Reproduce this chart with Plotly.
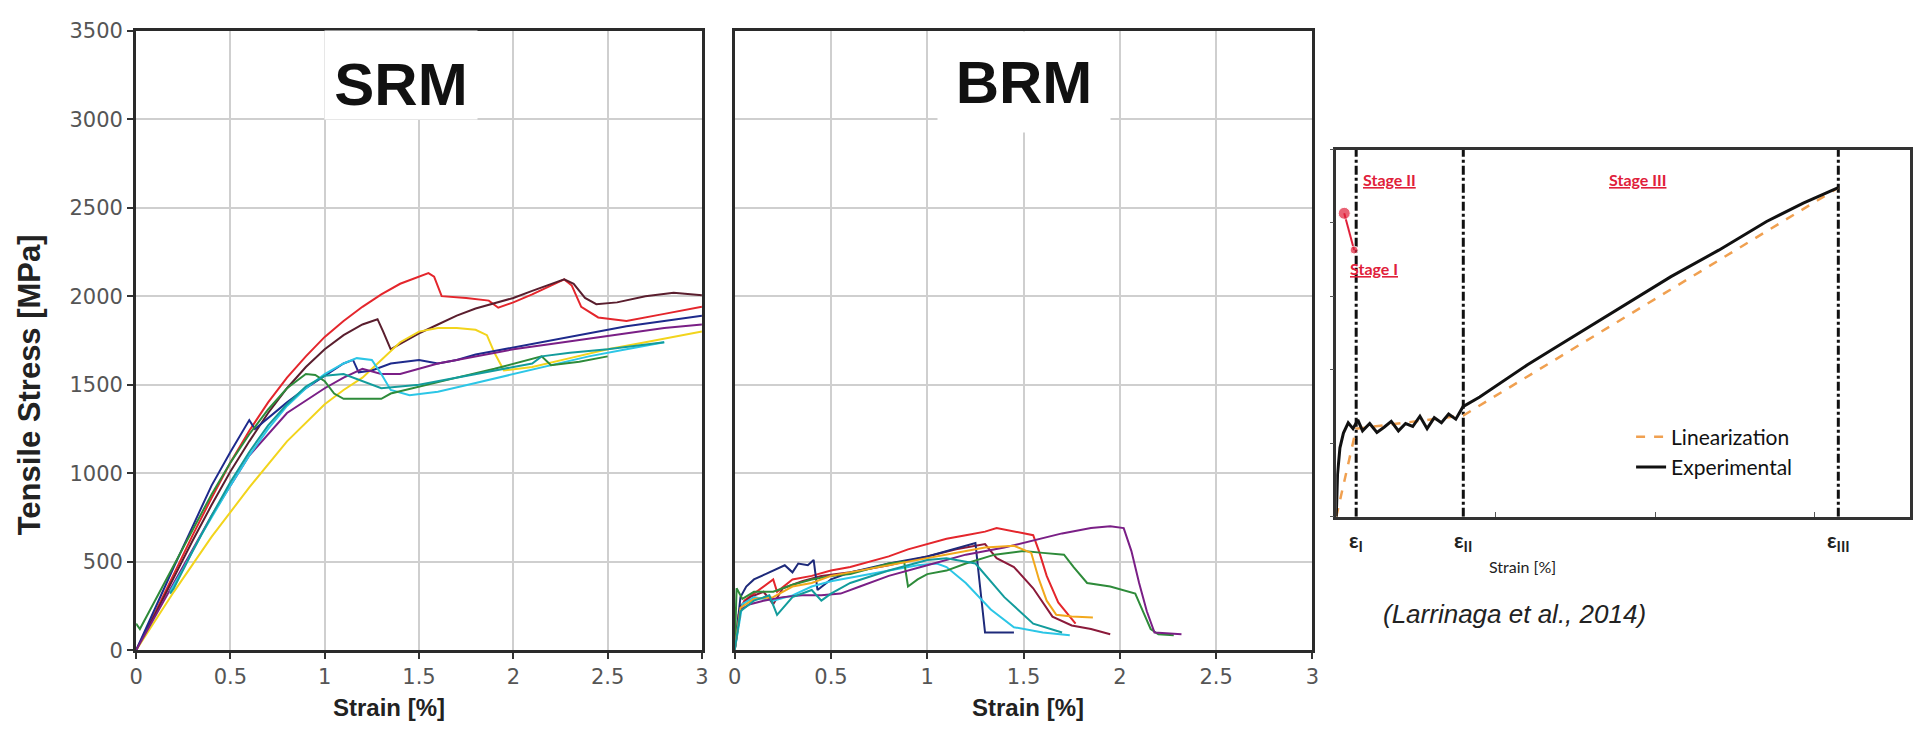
import plotly.graph_objects as go

# ---- SRM panel (strain %, stress MPa) ----
srm_colors = ["#E4262C", "#5A1E2E", "#F2D41C", "#1E2A8C", "#7A1F86", "#2CC6E6", "#2E8B3A", "#139C9C"]
srm_x = [
    [0, 0.1, 0.2, 0.3, 0.4, 0.5, 0.6, 0.7, 0.8, 0.9, 1.0, 1.1, 1.2, 1.3, 1.4, 1.5, 1.55, 1.58, 1.62, 1.75, 1.87,
     1.92, 2.0, 2.1, 2.2, 2.27, 2.31, 2.36, 2.45, 2.6, 2.8, 3.0],
    [0, 0.1, 0.2, 0.3, 0.4, 0.5, 0.6, 0.7, 0.8, 0.9, 1.0, 1.1, 1.2, 1.28, 1.31, 1.35, 1.4, 1.5, 1.6, 1.7, 1.8,
     1.9, 2.0, 2.1, 2.2, 2.27, 2.32, 2.38, 2.44, 2.55, 2.7, 2.85, 3.0],
    [0, 0.2, 0.4, 0.5, 0.6, 0.8, 1.0, 1.1, 1.2, 1.3, 1.4, 1.5, 1.6, 1.7, 1.8, 1.86, 1.9, 1.95, 2.1, 2.3, 2.5,
     2.7, 2.9, 3.0],
    [0, 0.1, 0.2, 0.3, 0.4, 0.5, 0.6, 0.63, 0.7, 0.8, 0.9, 1.0, 1.1, 1.15, 1.18, 1.25, 1.35, 1.5, 1.6, 1.7,
     1.8, 1.9, 2.0, 2.2, 2.4, 2.6, 2.8, 3.0],
    [0, 0.2, 0.4, 0.6, 0.8, 1.0, 1.1, 1.2, 1.3, 1.4, 1.5, 1.6, 1.7, 1.8, 1.9, 2.0, 2.2, 2.4, 2.6, 2.8, 3.0],
    [0.18, 0.25, 0.35, 0.5, 0.6, 0.7, 0.8, 0.9, 1.0, 1.1, 1.17, 1.25, 1.3, 1.35, 1.45, 1.6, 1.8, 2.0, 2.2,
     2.4, 2.6, 2.8],
    [0, 0.02, 0.1, 0.2, 0.3, 0.4, 0.5, 0.6, 0.7, 0.8, 0.9, 0.95, 1.0, 1.05, 1.1, 1.2, 1.3, 1.35, 1.5, 1.7,
     1.9, 2.05, 2.15, 2.2, 2.35, 2.5],
    [0.18, 0.2, 0.3, 0.4, 0.5, 0.6, 0.7, 0.8, 0.9, 1.0, 1.1, 1.2, 1.3, 1.5, 1.7, 1.9, 2.1, 2.15, 2.3, 2.5, 2.8],
]
srm_y = [
    [0, 210, 430, 650, 860, 1060, 1240, 1400, 1540, 1660, 1770, 1860, 1940, 2010, 2070, 2110, 2130, 2110, 2000,
     1990, 1975, 1935, 1965, 2010, 2060, 2095, 2060, 1940, 1880, 1860, 1900, 1940],
    [0, 200, 410, 620, 820, 1010, 1180, 1340, 1480, 1600, 1700, 1780, 1840, 1870, 1800, 1700, 1730, 1790, 1840,
     1890, 1930, 1960, 1990, 2030, 2070, 2095, 2070, 1990, 1955, 1965, 2000, 2020, 2005],
    [0, 330, 640, 780, 920, 1180, 1390, 1470, 1540, 1640, 1740, 1800, 1820, 1820, 1810, 1780, 1680, 1580, 1600,
     1650, 1700, 1740, 1780, 1800],
    [0, 230, 470, 700, 930, 1120, 1300, 1250, 1310, 1400, 1480, 1550, 1620, 1640, 1570, 1580, 1620, 1640, 1620,
     1640, 1670, 1690, 1710, 1750, 1790, 1830, 1860, 1890],
    [0, 380, 760, 1100, 1340, 1480, 1540, 1590, 1560, 1560, 1590, 1620, 1640, 1660, 1680, 1700, 1730, 1760,
     1790, 1820, 1840],
    [330, 460, 660, 930, 1100, 1250, 1380, 1480, 1560, 1620, 1650, 1640, 1560, 1470, 1440, 1460, 1510, 1560,
     1610, 1660, 1700, 1740],
    [150, 120, 280, 480, 680, 880, 1060, 1220, 1360, 1480, 1560, 1555, 1520, 1450, 1420, 1420, 1420, 1450, 1490,
     1540, 1590, 1630, 1660, 1610, 1630, 1660],
    [320, 350, 560, 760, 950, 1120, 1270, 1390, 1490, 1550, 1560, 1520, 1480, 1500, 1540, 1580, 1620, 1660, 1680,
     1700, 1740],
]

# ---- BRM panel ----
brm_colors = ["#E4262C", "#8B1A3A", "#1E2A7A", "#2CC6E6", "#2E8B3A", "#7A1F86", "#F2A81C", "#139C9C"]
brm_x = [
    [0, 0.02, 0.05, 0.1, 0.15, 0.2, 0.22, 0.3, 0.4, 0.5, 0.6, 0.7, 0.8, 0.9, 1.0, 1.1, 1.2, 1.3, 1.36, 1.45,
     1.55, 1.58, 1.62, 1.68, 1.77],
    [0, 0.03, 0.08, 0.15, 0.2, 0.25, 0.35, 0.45, 0.6, 0.8, 1.0, 1.15, 1.3, 1.36, 1.45, 1.55, 1.65, 1.75, 1.85,
     1.95],
    [0, 0.03, 0.06, 0.1, 0.16, 0.2, 0.26, 0.3, 0.33, 0.38, 0.41, 0.43, 0.5, 0.6, 0.8, 1.0, 1.1, 1.2, 1.25,
     1.27, 1.3, 1.45],
    [0, 0.04, 0.1, 0.2, 0.3, 0.4, 0.5, 0.6, 0.8, 0.95, 1.05, 1.1, 1.2, 1.33, 1.45, 1.6, 1.74],
    [0, 0.01, 0.04, 0.1, 0.2, 0.3, 0.4, 0.5, 0.6, 0.7, 0.8, 0.88, 0.9, 0.95, 1.0, 1.1, 1.2, 1.35, 1.5, 1.6,
     1.71, 1.76, 1.83, 1.95, 2.08, 2.12, 2.16, 2.2, 2.28],
    [0, 0.03, 0.08, 0.15, 0.25, 0.35, 0.45, 0.55, 0.65, 0.8, 1.0, 1.2, 1.4, 1.55, 1.7, 1.85, 1.95, 2.02, 2.06,
     2.1, 2.14, 2.18, 2.32],
    [0, 0.03, 0.1, 0.2, 0.3, 0.4, 0.5, 0.7, 0.9, 1.1, 1.3, 1.45, 1.54, 1.58, 1.62, 1.67, 1.75, 1.86],
    [0, 0.03, 0.1, 0.18, 0.22, 0.3, 0.4, 0.45, 0.5, 0.6, 0.8, 0.9, 1.0, 1.1, 1.25, 1.4, 1.55, 1.7],
]
brm_y = [
    [0, 200, 280, 320, 360, 400, 330, 400, 420, 450, 470, 500, 530, 570, 600, 630, 650, 670, 690, 670, 650, 560,
     420, 270, 150],
    [0, 250, 300, 330, 260, 350, 390, 420, 440, 480, 530, 570, 600, 520, 470, 350, 190, 140, 120, 90],
    [0, 300, 360, 400, 430, 450, 480, 440, 490, 480, 510, 340, 400, 440, 490, 530, 560, 590, 605, 400, 100,
     100],
    [0, 260, 300, 280, 310, 360, 390, 410, 450, 480, 490, 470, 380, 230, 130, 100, 85],
    [0, 350, 290, 330, 330, 370, 400, 420, 430, 460, 490, 500, 360, 400, 430, 450, 490, 540, 560, 550, 540, 470,
     380, 360, 320, 220, 120, 90, 85],
    [0, 230, 260, 280, 300, 310, 310, 320, 360, 420, 480, 540, 580, 620, 660, 690, 700, 690, 560, 380, 220, 100,
     90],
    [0, 240, 290, 300, 360, 380, 420, 460, 500, 540, 580, 590, 550, 400, 280, 200, 190, 185],
    [0, 220, 280, 310, 200, 300, 340, 280, 320, 380, 450, 480, 510, 520, 490, 300, 150, 100],
]

# ---- schematic (Larrinaga et al., 2014) ----
exp_x = [0, 0.008, 0.023, 0.045, 0.075, 0.105, 0.135, 0.165, 0.21, 0.255, 0.3, 0.345, 0.39, 0.435, 0.48, 0.525,
         0.57, 0.615, 0.66, 0.705, 0.75, 0.795, 0.9, 1.05, 1.2, 1.35, 1.5, 1.8, 2.1, 2.4, 2.7, 2.93, 3.15]
exp_y = [0, 290, 470, 570, 640, 600, 660, 585, 635, 575, 610, 650, 585, 635, 615, 685, 600, 675, 640, 700, 665,
         750, 815, 925, 1035, 1135, 1235, 1435, 1635, 1815, 2010, 2135, 2240]
lin_x = [0, 0.125, 0.797, 3.15]
lin_y = [0, 600, 690, 2240]
stage_limits = [0.125, 0.797, 3.15]
stage_limit_labels = ["ε<sub>I</sub>", "ε<sub>II</sub>", "ε<sub>III</sub>"]
red_dots_x = [0.05, 0.112]
red_dots_y = [2066, 1816]
stage_labels = ["Stage II", "Stage III", "Stage I"]
stage_label_x = [0.336, 1.887, 0.237]
stage_label_y = [2296, 2296, 1691]

# window size; the page body keeps its default 8px margin
W, H = 1929, 735
OFF = 8
FW, FH = W - 2 * OFF, H - 2 * OFF
FONT = "Liberation Sans, Arial, sans-serif"


def xp(px):
    return (px - OFF) / FW


def yp(py):
    return 1 - (py - OFF) / FH


def px_x(a, b):
    return [xp(a), xp(b)]


def px_y(top, bottom):
    return [yp(bottom), yp(top)]


fig = go.Figure()

for xs, ys, c in zip(srm_x, srm_y, srm_colors):
    fig.add_trace(go.Scatter(x=xs, y=ys, mode="lines", line=dict(color=c, width=2),
                             xaxis="x", yaxis="y", showlegend=False, hoverinfo="skip"))
for xs, ys, c in zip(brm_x, brm_y, brm_colors):
    fig.add_trace(go.Scatter(x=xs, y=ys, mode="lines", line=dict(color=c, width=2),
                             xaxis="x2", yaxis="y2", showlegend=False, hoverinfo="skip"))

# stage limits (dash-dot verticals)
for s in stage_limits:
    fig.add_trace(go.Scatter(x=[s, s], y=[0, 2500], mode="lines",
                             line=dict(color="#111", width=3, dash="dashdot"),
                             xaxis="x3", yaxis="y3", showlegend=False, hoverinfo="skip"))

fig.add_trace(go.Scatter(x=lin_x, y=lin_y, mode="lines", name="Linearization",
                         line=dict(color="#F0A050", width=2.5, dash="dash"),
                         xaxis="x3", yaxis="y3"))
fig.add_trace(go.Scatter(x=exp_x, y=exp_y, mode="lines", name="Experimental",
                         line=dict(color="#111", width=3),
                         xaxis="x3", yaxis="y3"))
fig.add_trace(go.Scatter(x=red_dots_x, y=red_dots_y, mode="lines+markers",
                         line=dict(color="#E0203A", width=2),
                         marker=dict(color="#E0203A", size=[12, 8]),
                         xaxis="x3", yaxis="y3", showlegend=False, hoverinfo="skip"))

tick_font = dict(family="DejaVu Sans, sans-serif", size=21, color="#555")
title_font = dict(family=FONT, size=24, color="#222")
frame = dict(showline=True, linecolor="#2a2a2a", linewidth=3, mirror=True, zeroline=False,
             showgrid=True, gridcolor="#cfcfcf", gridwidth=1.5)
TOP, BOT = 19, 660

fig.update_layout(
    width=FW, height=FH, autosize=False,
    margin=dict(l=0, r=0, t=0, b=0),
    paper_bgcolor="white", plot_bgcolor="white",
    xaxis=dict(domain=px_x(130, 700), range=[0, 3], dtick=0.5, tickformat="~g",
               ticks="outside", ticklen=6, tickwidth=2, tickcolor="#333", tickfont=tick_font, **frame),
    yaxis=dict(domain=px_y(TOP, BOT), range=[0, 3500], dtick=500, ticklabeloverflow="allow",
               ticks="outside", ticklen=6, tickwidth=2, tickcolor="#333", tickfont=tick_font, **frame),
    xaxis2=dict(domain=px_x(733, 1315), range=[0, 3], dtick=0.5, tickformat="~g", anchor="y2",
                ticks="outside", ticklen=6, tickwidth=2, tickcolor="#333", tickfont=tick_font, **frame),
    yaxis2=dict(domain=px_y(TOP, BOT), range=[0, 3500], dtick=500, anchor="x2",
                showticklabels=False, ticks="", **frame),
    xaxis3=dict(domain=px_x(1339, 1917), range=[0, 3.6], dtick=1, anchor="y3",
                showticklabels=False, ticks="inside", ticklen=5, tickcolor="#555",
                showline=True, linecolor="#333", linewidth=2.5, mirror=True, showgrid=False, zeroline=False),
    yaxis3=dict(domain=px_y(142, 522), range=[0, 2500], dtick=500, anchor="x3",
                showticklabels=False, ticks="outside", ticklen=4, tickcolor="#555",
                showline=True, linecolor="#333", linewidth=2.5, mirror=True, showgrid=False, zeroline=False),
    legend=dict(x=xp(1636), y=yp(455), xanchor="left", yanchor="middle",
                bgcolor="rgba(0,0,0,0)", font=dict(family="Lato, sans-serif", size=21, color="#111"),
                tracegroupgap=0),
)

mpa_per_px = 3500 / (BOT - TOP)
annotations = [
    dict(text="<b>SRM</b>", x=1.405, y=(BOT - 64.5) * mpa_per_px, xref="x", yref="y", showarrow=False,
         valign="bottom", font=dict(family=FONT, size=60, color="#111"), bgcolor="white", width=150, height=86),
    dict(text="<b>BRM</b>", x=1.5, y=(BOT - 72.5) * mpa_per_px, xref="x2", yref="y2", showarrow=False,
         font=dict(family=FONT, size=60, color="#111"), bgcolor="white", width=170, height=98),
    dict(text="<b>Tensile Stress [MPa]</b>", x=xp(23), y=yp(385), xref="paper", yref="paper",
         xanchor="center", yanchor="middle", textangle=-90, showarrow=False,
         font=dict(family=FONT, size=31, color="#222")),
    dict(text="<b>Strain [%]</b>", x=xp(385), y=yp(719), xref="paper", yref="paper",
         xanchor="center", yanchor="middle", showarrow=False, font=title_font),
    dict(text="<b>Strain [%]</b>", x=xp(1028), y=yp(719), xref="paper", yref="paper",
         xanchor="center", yanchor="middle", showarrow=False, font=title_font),
    dict(text="Strain [%]", x=xp(1527), y=yp(573), xref="paper", yref="paper",
         xanchor="center", yanchor="middle", showarrow=False,
         font=dict(family="Lato, sans-serif", size=16, color="#222")),
    dict(text="<i>(Larrinaga et al., 2014)</i>", x=xp(1653), y=yp(622), xref="paper", yref="paper",
         xanchor="right", yanchor="middle", showarrow=False, font=dict(family=FONT, size=26, color="#222")),
]
for s, lab in zip(stage_limits, stage_limit_labels):
    annotations.append(dict(text="<b>" + lab + "</b>", x=s, y=yp(547), xref="x3", yref="paper",
                            yanchor="middle", showarrow=False,
                            font=dict(family="Lato, sans-serif", size=21, color="#222")))
for lab, sx, sy in zip(stage_labels, stage_label_x, stage_label_y):
    annotations.append(dict(text="<b><u>" + lab + "</u></b>", x=sx, y=sy, xref="x3", yref="y3",
                            showarrow=False, font=dict(family="Lato, sans-serif", size=16, color="#E0203A")))
fig.update_layout(annotations=annotations)

fig.write_html("out.html")
